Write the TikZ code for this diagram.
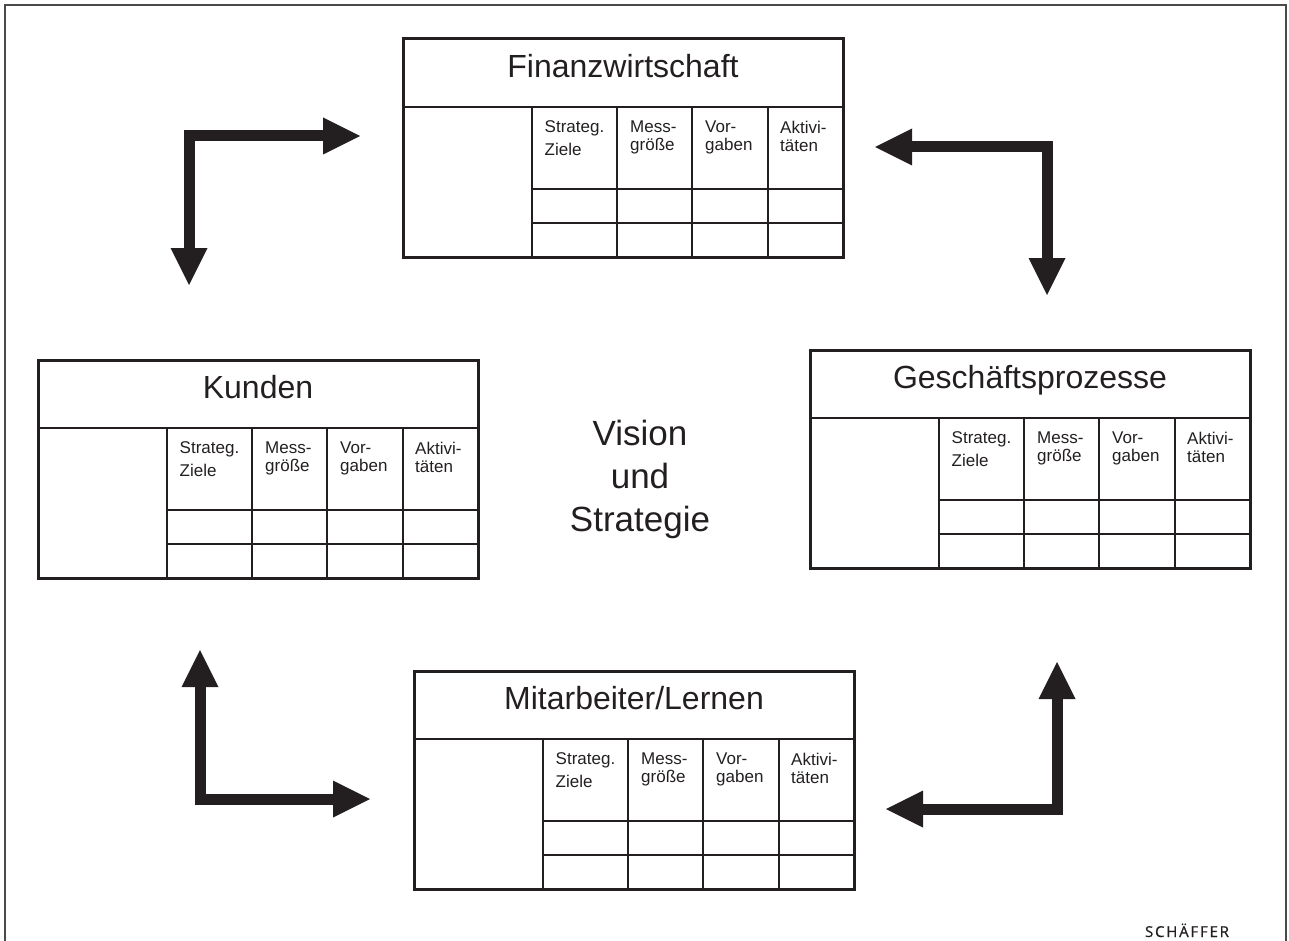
\documentclass[tikz,border=0pt]{standalone}
\usepackage{fontspec}
\setmainfont{Liberation Sans}
\newfontfamily\brandfont[LetterSpace=12, FakeBold=0.8]{Open Sans}
\usetikzlibrary{arrows.meta}
\definecolor{ink}{HTML}{231F20}
\definecolor{framegray}{HTML}{4A4A4A}

\tikzset{
  cardbox/.style={draw=ink, line width=3pt, minimum width=440pt, minimum height=218pt, inner sep=0pt},
  gridline/.style={draw=ink, line width=2.2pt},
  cardtitle/.style={text=ink, inner sep=0pt, anchor=base, font=\fontsize{32}{38}\selectfont},
  celltext/.style={text=ink, inner sep=0pt, anchor=north west, align=left, font=\fontsize{17}{18.5}\selectfont},
  flow/.style={draw=ink, line width=11pt, line join=miter,
    {Triangle[length=37pt, width=37pt, line width=0pt]}-{Triangle[length=37pt, width=37pt, line width=0pt]}},
  pics/scorecard/.style={code={
    % table grid
    \draw[gridline] (0,68) -- (440,68);
    \draw[gridline] (129,68) -- (129,218);
    \draw[gridline] (214,68) -- (214,218);
    \draw[gridline] (289,68) -- (289,218);
    \draw[gridline] (365,68) -- (365,218);
    \draw[gridline] (129,150) -- (440,150);
    \draw[gridline] (129,184) -- (440,184);
    % outer frame and headings
    \node[cardbox] (-box) at (220,109) {};
    \node[cardtitle] (-title) at (220,38.5) {#1};
    \node[celltext] (-goals) at (141.5,81.5) {Strateg.\\[4pt]Ziele};
    \node[celltext] (-measure) at (227,81.5) {Mess-\\größe};
    \node[celltext] (-target) at (302,81.5) {Vor-\\gaben};
    \node[celltext] (-action) at (377,81.5) {Aktivi-\\täten};
  }}
}

\begin{document}
\begin{tikzpicture}[x=1pt, y=-1pt]
\useasboundingbox (0,0) rectangle (1289,941);

% outer frame, open at the bottom
\draw[framegray, line width=2pt] (4.5,941) -- (4.5,5) -- (1286,5) -- (1286,941);

% the four perspectives
\pic (fin) at (403,39) {scorecard=Finanzwirtschaft};
\pic (kun) at (38,360) {scorecard=Kunden};
\pic (ges) at (810,350) {scorecard=Geschäftsprozesse};
\pic (mit) at (414,671) {scorecard=Mitarbeiter/Lernen};

% centre
\node[text=ink, align=center, inner sep=0pt, font=\fontsize{35}{43}\selectfont] (vision) at (640,479.5) {Vision\\und\\Strategie};

% linking arrows
\coordinate (tl-e) at (360,136);
\coordinate (tl-c) at (189,136);
\coordinate (tl-s) at (189,285);
\coordinate (tr-w) at (875,147);
\coordinate (tr-c) at (1047,147);
\coordinate (tr-s) at (1047,295);
\coordinate (bl-n) at (200,650);
\coordinate (bl-c) at (200,799);
\coordinate (bl-e) at (370,799);
\coordinate (br-n) at (1057,662);
\coordinate (br-c) at (1057,809);
\coordinate (br-w) at (886,809);

\draw[flow] (tl-e) -- (tl-c) -- (tl-s);
\draw[flow] (tr-w) -- (tr-c) -- (tr-s);
\draw[flow] (bl-n) -- (bl-c) -- (bl-e);
\draw[flow] (br-n) -- (br-c) -- (br-w);

% publisher mark
\node[text=ink, inner sep=0pt, anchor=base, font=\brandfont\fontsize{15}{17}\selectfont] (brand) at (1187,937) {SCHÄFFER};
\end{tikzpicture}
\end{document}
